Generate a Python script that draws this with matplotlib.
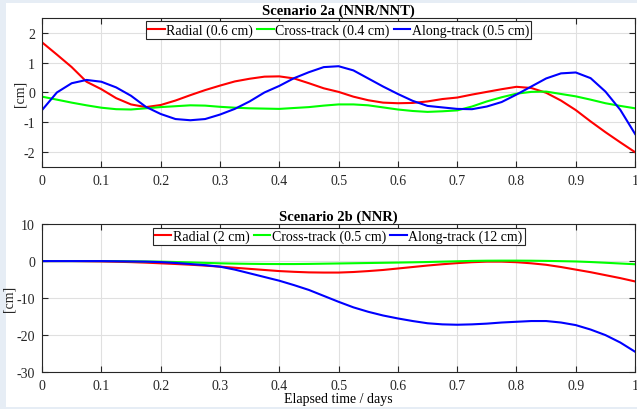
import matplotlib
matplotlib.use('Agg')
import matplotlib.pyplot as plt
import matplotlib.patches as mpatches
import numpy as np

# Elapsed time (days)
t = np.linspace(0, 1, 41)

# Scenario 2a (NNR/NNT), cm
radial_a = [1.68, 1.27, 0.85, 0.36, 0.11, -0.19, -0.40, -0.49, -0.42, -0.27,
            -0.09, 0.08, 0.23, 0.37, 0.46, 0.53, 0.54, 0.47, 0.31, 0.14,
            0.02, -0.14, -0.26, -0.34, -0.36, -0.35, -0.30, -0.22, -0.17, -0.07,
            0.02, 0.11, 0.19, 0.15, -0.01, -0.27, -0.59, -0.97, -1.33, -1.67, -2.00]
cross_a = [-0.14, -0.24, -0.34, -0.43, -0.51, -0.56, -0.57, -0.53, -0.49, -0.46,
           -0.43, -0.44, -0.48, -0.51, -0.53, -0.54, -0.55, -0.52, -0.49, -0.44,
           -0.40, -0.40, -0.43, -0.50, -0.57, -0.62, -0.65, -0.63, -0.60, -0.47,
           -0.30, -0.16, -0.04, 0.02, 0.03, -0.05, -0.13, -0.24, -0.36, -0.45, -0.53]
along_a = [-0.59, 0.00, 0.31, 0.42, 0.36, 0.17, -0.11, -0.48, -0.72, -0.89,
           -0.93, -0.89, -0.74, -0.55, -0.30, 0.00, 0.22, 0.48, 0.68, 0.85,
           0.88, 0.74, 0.47, 0.20, -0.05, -0.28, -0.45, -0.50, -0.55, -0.56,
           -0.47, -0.32, -0.07, 0.20, 0.47, 0.64, 0.67, 0.48, 0.03, -0.58, -1.39]

# Scenario 2b (NNR), cm
radial_b = [0, 0, 0, -0.05, -0.10, -0.18, -0.28, -0.42, -0.60, -0.78,
            -0.98, -1.22, -1.50, -1.80, -2.10, -2.40, -2.70, -2.90, -3.05, -3.10,
            -3.10, -2.95, -2.70, -2.40, -2.00, -1.60, -1.20, -0.85, -0.55, -0.30,
            -0.15, -0.15, -0.30, -0.60, -1.00, -1.60, -2.30, -3.00, -3.80, -4.60, -5.50]
cross_b = [0, 0, 0, 0, 0, 0, -0.05, -0.10, -0.15, -0.25,
           -0.35, -0.48, -0.60, -0.68, -0.74, -0.78, -0.80, -0.80, -0.76, -0.70,
           -0.64, -0.58, -0.52, -0.46, -0.40, -0.33, -0.25, -0.15, -0.05, 0.05,
           0.10, 0.12, 0.12, 0.10, 0.05, -0.02, -0.10, -0.25, -0.45, -0.65, -0.85]
along_b = [0, 0, 0, 0, 0, -0.05, -0.10, -0.15, -0.27, -0.50,
           -0.80, -1.10, -1.50, -2.30, -3.30, -4.30, -5.30, -6.50, -7.80, -9.40,
           -11.00, -12.50, -13.70, -14.70, -15.50, -16.20, -16.80, -17.10, -17.20, -17.10,
           -16.90, -16.60, -16.40, -16.20, -16.20, -16.60, -17.30, -18.50, -20.00, -22.00, -24.50]

labels_a = ['Radial (0.6 cm)', 'Cross-track (0.4 cm)', 'Along-track (0.5 cm)']
labels_b = ['Radial (2 cm)', 'Cross-track (0.5 cm)', 'Along-track (12 cm)']
xticks = [0, 0.1, 0.2, 0.3, 0.4, 0.5, 0.6, 0.7, 0.8, 0.9, 1]
xticklabels = ['0', '0.1', '0.2', '0.3', '0.4', '0.5', '0.6', '0.7', '0.8', '0.9', '1']

plt.rcParams['font.family'] = ['Liberation Serif', 'DejaVu Serif']
plt.rcParams['font.size'] = 10

fig = plt.figure(figsize=(6.37, 4.10), dpi=100, facecolor='#e6edf5')
# white panel inside the light border
fig.patches.append(mpatches.Rectangle((6 / 637, 2 / 410), 1, 404 / 410,
                                      transform=fig.transFigure, facecolor='white',
                                      edgecolor='none', zorder=-10))

ax1 = fig.add_axes([0.066, 0.590, 0.931, 0.364])
ax2 = fig.add_axes([0.066, 0.090, 0.931, 0.361])

colors = ['#ff0000', '#00ff00', '#0000ff']


def style_axes(ax, ylim, yticks, yticklabels, title, pad):
    ax.set_xlim(0, 1)
    ax.set_ylim(*ylim)
    ax.set_xticks(xticks)
    ax.set_xticklabels(xticklabels)
    ax.set_yticks(yticks)
    ax.set_yticklabels(yticklabels)
    ax.grid(True, color='#e0e0e0', linewidth=0.8)
    ax.set_axisbelow(True)
    ax.tick_params(direction='in', top=True, right=True, length=4,
                   labelsize=10, colors='#262626', pad=5)
    for sp in ax.spines.values():
        sp.set_color('#262626')
        sp.set_linewidth(0.8)
    ax.set_ylabel('[cm]', fontsize=10, color='#262626', labelpad=pad)
    ax.set_title(title, fontsize=10.5, fontweight='bold', pad=3)


for y, c, lab in zip([radial_a, cross_a, along_a], colors, labels_a):
    ax1.plot(t, y, color=c, linewidth=1.5, label=lab)
style_axes(ax1, (-2.5, 2.5), [-2, -1, 0, 1, 2], ['-2', '-1', '0', '1', '2'],
           'Scenario 2a (NNR/NNT)', -2)

for y, c, lab in zip([radial_b, cross_b, along_b], colors, labels_b):
    ax2.plot(t, y, color=c, linewidth=1.5, label=lab)
style_axes(ax2, (-30, 10), [-30, -20, -10, 0, 10], ['-30', '-20', '-10', '0', '10'],
           'Scenario 2b (NNR)', 0.5)
ax2.set_xlabel('Elapsed time / days', fontsize=10, labelpad=0)

for ax in (ax1, ax2):
    leg = ax.legend(loc='upper center', ncol=3, fontsize=10, frameon=True,
                    fancybox=False, edgecolor='#262626', handlelength=1.2,
                    handletextpad=0.1, columnspacing=0.3, borderpad=0.15,
                    borderaxespad=0.25, framealpha=1)
    leg.get_frame().set_linewidth(0.8)

plt.savefig('out.png', dpi=100, facecolor=fig.get_facecolor())
plt.close()
